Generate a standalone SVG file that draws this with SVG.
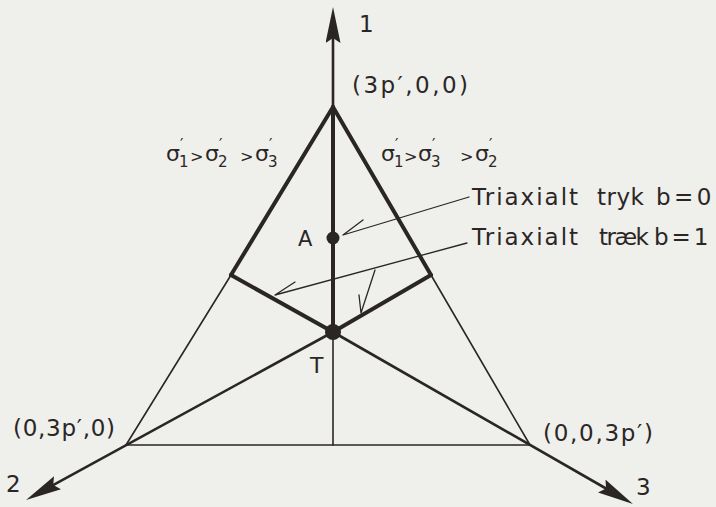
<svg xmlns="http://www.w3.org/2000/svg" width="716" height="507" viewBox="0 0 716 507">
<style>
  .ln { stroke: #2b2626; fill: none; stroke-linecap: round; stroke-linejoin: round; }
  .thick { stroke-width: 4; }
  .mid { stroke-width: 2.6; }
  .thin { stroke-width: 1.6; }
  .hair { stroke-width: 1.3; }
  .txt { font-family: "DejaVu Sans", "Liberation Sans", sans-serif; fill: #2b2626; }
  .lbl { font-size: 23px; }
  .leg { font-size: 23px; }
  .sig { font-size: 22px; }
  .sub { font-size: 15px; }
  .pr { font-size: 15px; }
  .gt { font-size: 16px; }
  .dot { fill: #2b2626; }
</style>
<defs>
  <marker id="axis" viewBox="0 0 36 15" refX="26" refY="7.5" markerWidth="36" markerHeight="15" markerUnits="userSpaceOnUse" orient="auto">
    <path d="M0,0 L36,7.5 L0,15 L5,7.5 Z" fill="#2b2626"/>
  </marker>
</defs>
<rect x="0" y="0" width="716" height="507" fill="#efefeb"/>

<g id="connectors">
  <!-- axis 1 -->
  <line class="ln mid" x1="333" y1="107" x2="333" y2="17" marker-end="url(#axis)"/>
  <!-- axes 2 and 3 (medians through T) -->
  <line class="ln mid" x1="333" y1="332" x2="34.8" y2="495.2" marker-end="url(#axis)"/>
  <line class="ln mid" x1="333" y1="332" x2="624.3" y2="499" marker-end="url(#axis)"/>
  <!-- triangle sides -->
  <line class="ln thick" x1="333" y1="107" x2="231" y2="275"/>
  <line class="ln thick" x1="333" y1="107" x2="431" y2="275"/>
  <line class="ln thin" x1="231" y1="275" x2="126" y2="445"/>
  <line class="ln thin" x1="431" y1="275" x2="530" y2="445"/>
  <line class="ln thin" x1="126" y1="445" x2="530" y2="445"/>
  <!-- vertical median -->
  <line class="ln thick" x1="333" y1="107" x2="333" y2="332"/>
  <line class="ln thin" x1="333" y1="332" x2="333" y2="445"/>
  <!-- thick inner locus lines -->
  <line class="ln thick" x1="231" y1="275" x2="333" y2="332"/>
  <line class="ln thick" x1="431" y1="275" x2="333" y2="332"/>
  <!-- leader: Triaxialt tryk -> A -->
  <polyline class="ln hair" points="469,197 343,235 363,220"/>
  <!-- leader: Triaxialt traek -> locus lines -->
  <polyline class="ln hair" points="467,243 275,295 295,282"/>
  <polyline class="ln hair" points="375,270 361,313 359,295"/>
</g>

<g id="node-A">
  <circle class="dot" cx="333" cy="238" r="6.5"/>
  <text class="txt" x="298" y="246" font-size="21">A</text>
</g>
<g id="node-T">
  <circle class="dot" cx="333" cy="332" r="8"/>
  <text class="txt" x="310" y="373" font-size="22">T</text>
</g>

<g id="node-axis1">
  <text class="txt lbl" x="359" y="32">1</text>
</g>
<g id="node-axis2">
  <text class="txt lbl" x="6" y="492">2</text>
</g>
<g id="node-axis3">
  <text class="txt lbl" x="636" y="495">3</text>
</g>

<g id="node-top">
  <text class="txt lbl" x="352" y="93" textLength="116" lengthAdjust="spacing">(3p′,0,0)</text>
</g>
<g id="node-left">
  <text class="txt lbl" x="13" y="436" textLength="102" lengthAdjust="spacing">(0,3p′,0)</text>
</g>
<g id="node-right">
  <text class="txt lbl" x="543" y="441" textLength="110" lengthAdjust="spacing">(0,0,3p′)</text>
</g>

<g id="node-region-left">
  <text class="txt"><tspan class="sig" x="166" y="161">σ</tspan><tspan class="pr" x="180" y="150">′</tspan><tspan class="sub" x="179" y="167">1</tspan><tspan class="gt" x="190" y="162">&gt;</tspan><tspan class="sig" x="205" y="161">σ</tspan><tspan class="pr" x="219" y="150">′</tspan><tspan class="sub" x="218" y="167">2</tspan><tspan class="gt" x="240" y="162">&gt;</tspan><tspan class="sig" x="255" y="161">σ</tspan><tspan class="pr" x="269" y="150">′</tspan><tspan class="sub" x="268" y="167">3</tspan></text>
</g>
<g id="node-region-right">
  <text class="txt"><tspan class="sig" x="381" y="161">σ</tspan><tspan class="pr" x="395" y="150">′</tspan><tspan class="sub" x="394" y="167">1</tspan><tspan class="gt" x="404" y="162">&gt;</tspan><tspan class="sig" x="418" y="161">σ</tspan><tspan class="pr" x="432" y="150">′</tspan><tspan class="sub" x="431" y="167">3</tspan><tspan class="gt" x="460" y="162">&gt;</tspan><tspan class="sig" x="475" y="161">σ</tspan><tspan class="pr" x="489" y="150">′</tspan><tspan class="sub" x="488" y="167">2</tspan></text>
</g>

<g id="node-legend-tryk">
  <text class="txt leg" y="205"><tspan x="472" letter-spacing="2">Triaxialt</tspan><tspan x="597" letter-spacing="0.5">tryk</tspan><tspan x="656" letter-spacing="3.5">b=0</tspan></text>
</g>
<g id="node-legend-traek">
  <text class="txt leg" y="245"><tspan x="472" letter-spacing="2">Triaxialt</tspan><tspan x="599" letter-spacing="-1.5">træk</tspan><tspan x="654" letter-spacing="3">b=1</tspan></text>
</g>
</svg>
